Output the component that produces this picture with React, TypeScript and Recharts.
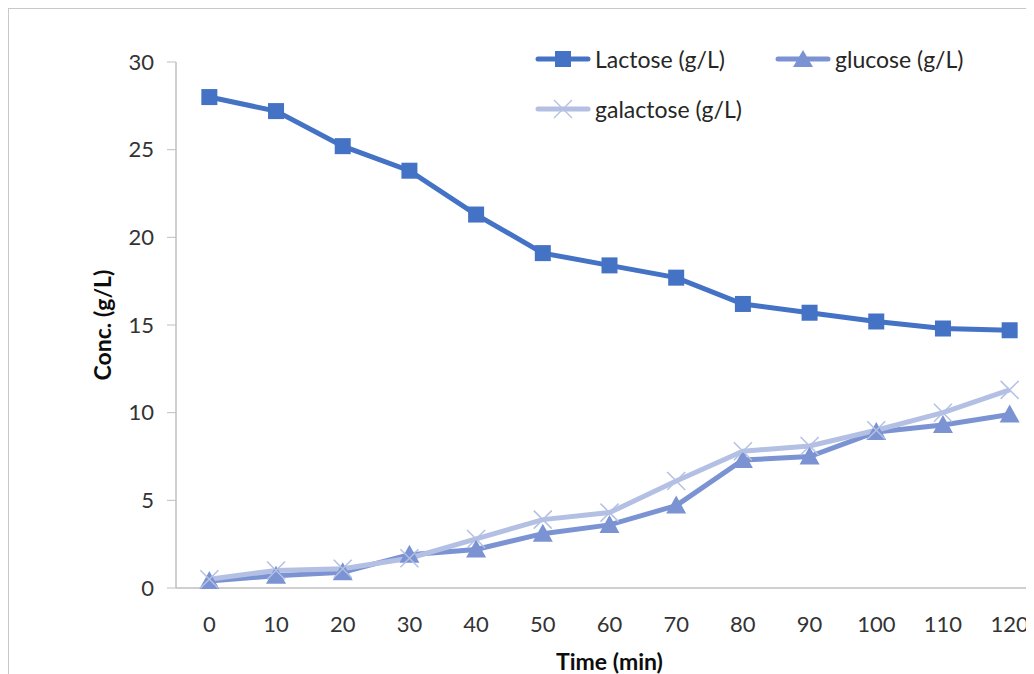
import React from "react"
import { LineChart, Line, XAxis, YAxis, Label } from "recharts"

// time points (min)
const times = [0, 10, 20, 30, 40, 50, 60, 70, 80, 90, 100, 110, 120]
const lactose = [28.0, 27.2, 25.2, 23.8, 21.3, 19.1, 18.4, 17.7, 16.2, 15.7, 15.2, 14.8, 14.7]
const glucose = [0.4, 0.7, 0.9, 1.9, 2.2, 3.1, 3.6, 4.7, 7.3, 7.5, 8.9, 9.3, 9.9]
const galactose = [0.5, 1.0, 1.1, 1.7, 2.8, 3.9, 4.3, 6.1, 7.8, 8.1, 9.0, 10.0, 11.3]
const yTicks = [0, 5, 10, 15, 20, 25, 30]

const data = times.map((t, i) => ({
  time: t,
  lactose: lactose[i],
  glucose: glucose[i],
  galactose: galactose[i],
}))

const C_LAC = "#4472C4"
const C_GLU = "#7B93D3"
const C_GAL = "#B3C0E4"
const FONT = "Lato, 'Open Sans', sans-serif"

const SquareDot = (props: any) => {
  const { cx, cy, index } = props
  if (cx == null || cy == null) return null
  return <rect key={`sq-${index}`} x={cx - 8} y={cy - 8} width={16} height={16} fill={C_LAC} />
}

const TriangleDot = (props: any) => {
  const { cx, cy, index } = props
  if (cx == null || cy == null) return null
  return (
    <polygon
      key={`tr-${index}`}
      points={`${cx},${cy - 10} ${cx + 10},${cy + 8} ${cx - 10},${cy + 8}`}
      fill={C_GLU}
    />
  )
}

const CrossDot = (props: any) => {
  const { cx, cy, index } = props
  if (cx == null || cy == null) return null
  return (
    <g key={`x-${index}`} stroke={C_GAL} strokeWidth={1.5}>
      <line x1={cx - 9} y1={cy - 9} x2={cx + 9} y2={cy + 9} />
      <line x1={cx - 9} y1={cy + 9} x2={cx + 9} y2={cy - 9} />
    </g>
  )
}

const LegendIcon = ({ color, kind }: { color: string; kind: string }) => (
  <svg width={56} height={20} style={{ display: "block" }}>
    <line x1={3} y1={10} x2={53} y2={10} stroke={color} strokeWidth={5} strokeLinecap="round" />
    {kind === "square" && <rect x={20} y={2} width={16} height={16} fill={color} />}
    {kind === "triangle" && <polygon points="28,1 38,18 18,18" fill={color} />}
    {kind === "cross" && (
      <g stroke={color} strokeWidth={1.2}>
        <line x1={19} y1={1} x2={37} y2={19} />
        <line x1={19} y1={19} x2={37} y2={1} />
      </g>
    )}
  </svg>
)

const LegendItem = ({ color, kind, text, left, top }: any) => (
  <div style={{ position: "absolute", left, top, display: "flex", alignItems: "center" }}>
    <LegendIcon color={color} kind={kind} />
    <span style={{ fontFamily: FONT, fontSize: 23, color: "#262626", marginLeft: 4, whiteSpace: "nowrap" }}>
      {text}
    </span>
  </div>
)

export default function App() {
  return (
    <div
      style={{
        width: 1026,
        height: 666,
        overflow: "hidden",
        position: "relative",
        background: "#fff",
      }}
    >
      <div
        style={{
          position: "absolute",
          left: 0,
          top: 0,
          width: 1100,
          height: 700,
          borderLeft: "1px solid #c8c8c8",
          borderTop: "1px solid #c8c8c8",
          boxSizing: "border-box",
        }}
      />
      <div style={{ position: "absolute", left: 0, top: 0 }}>
        <LineChart
          width={1040}
          height={666}
          data={data}
          margin={{ top: 54, right: 5, left: 0, bottom: 0 }}
        >
          <XAxis
            dataKey="time"
            type="number"
            domain={[-5, 125]}
            ticks={times}
            tickLine={false}
            axisLine={{ stroke: "#bfbfbf", strokeWidth: 1.5 }}
            tick={{ fill: "#333333", fontSize: 22, fontFamily: FONT }}
            tickMargin={22}
            height={86}
            interval={0}
          >
            <Label
              value="Time (min)"
              position="insideBottom"
              offset={4}
              style={{ fontWeight: "bold", fontSize: 23, fill: "#0d0d0d", fontFamily: FONT }}
            />
          </XAxis>
          <YAxis
            domain={[0, 30]}
            ticks={yTicks}
            width={168}
            tickSize={9}
            tickLine={{ stroke: "#bfbfbf" }}
            axisLine={{ stroke: "#bfbfbf", strokeWidth: 1.5 }}
            tick={{ fill: "#333333", fontSize: 22, fontFamily: FONT }}
            tickMargin={13}
          >
            <Label
              value="Conc. (g/L)"
              angle={-90}
              position="insideLeft"
              offset={95}
              style={{
                fontWeight: "bold",
                fontSize: 23,
                fill: "#0d0d0d",
                fontFamily: FONT,
                textAnchor: "middle",
              }}
            />
          </YAxis>
          <Line
            dataKey="lactose"
            name="Lactose (g/L)"
            stroke={C_LAC}
            strokeWidth={5}
            dot={SquareDot}
            activeDot={false}
            isAnimationActive={false}
          />
          <Line
            dataKey="glucose"
            name="glucose (g/L)"
            stroke={C_GLU}
            strokeWidth={5}
            dot={TriangleDot}
            activeDot={false}
            isAnimationActive={false}
          />
          <Line
            dataKey="galactose"
            name="galactose (g/L)"
            stroke={C_GAL}
            strokeWidth={5}
            dot={CrossDot}
            activeDot={false}
            isAnimationActive={false}
          />
        </LineChart>
      </div>
      <div style={{ position: "absolute", left: 527, top: 37 }}>
        <LegendItem color={C_LAC} kind="square" text="Lactose (g/L)" left={0} top={0} />
        <LegendItem color={C_GLU} kind="triangle" text="glucose (g/L)" left={240} top={0} />
        <LegendItem color={C_GAL} kind="cross" text="galactose (g/L)" left={0} top={50} />
      </div>
    </div>
  )
}
